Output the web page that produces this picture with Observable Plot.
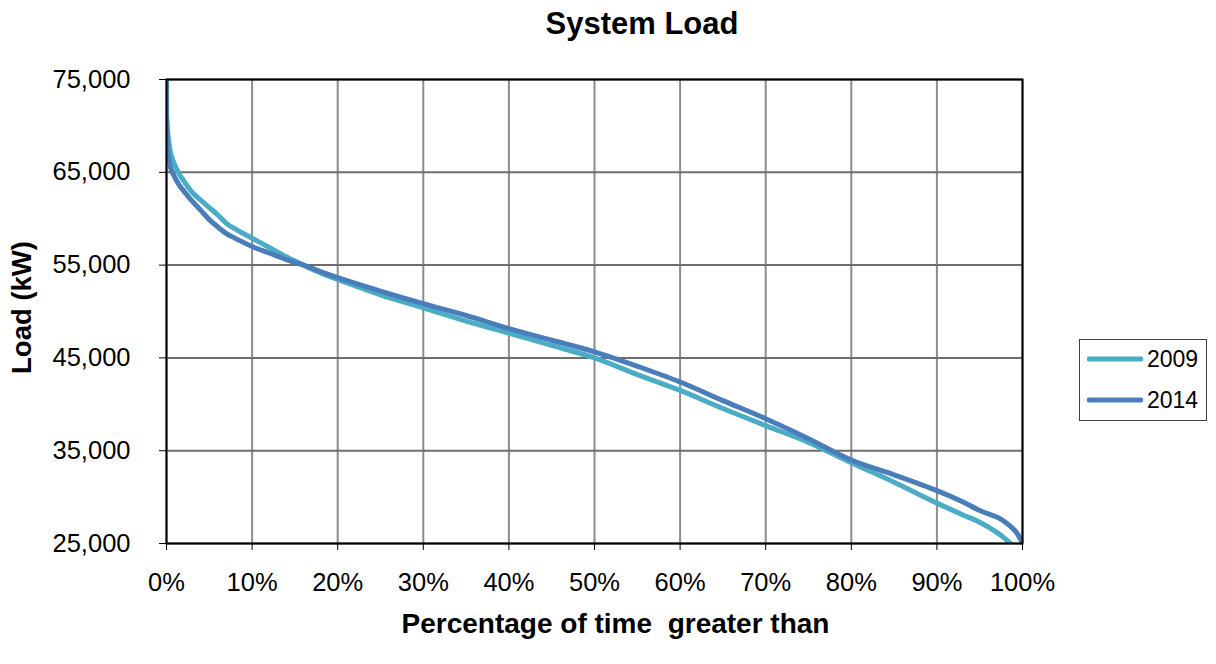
<!DOCTYPE html>
<html>
<head>
<meta charset="utf-8">
<script src="https://cdn.jsdelivr.net/npm/d3@7"></script>
<script src="https://cdn.jsdelivr.net/npm/@observablehq/plot@0.6"></script>
<style>
  html, body { margin: 0; padding: 0; background: #fff; }
  body { width: 1216px; height: 664px; position: relative; overflow: hidden; font-family: "Liberation Sans", Arial, sans-serif; }
  #title { position: absolute; left: 0; width: 1284px; top: 6px; text-align: center; font-weight: bold; font-size: 31px; line-height: 36px; color: #000; }
  #chart { position: absolute; left: 0; top: 0; }
  #legend { position: absolute; left: 1079px; top: 339px; width: 128px; height: 82px; border: 1.5px solid #444; box-sizing: border-box; }
  .item { position: absolute; left: 7px; height: 26px; display: flex; align-items: center; font-size: 23px; color: #000; }
  .item svg { margin-right: 4px; }
</style>
</head>
<body>
<div id="chart"></div>
<div id="title">System Load</div>
<div id="legend"></div>
<script>
// Percentage of time greater than (%)
const pct2009 = [0, 0.2, 0.5, 1, 1.5, 2, 3, 4, 5, 6, 7, 8, 10, 12, 14, 16, 18, 20, 25, 30, 35, 40, 45, 50, 55, 60, 65, 70, 75, 80, 85, 90, 93, 95, 97, 98, 98.6];
const load2009 = [71000, 68800, 67000, 65700, 64800, 64100, 62850, 62000, 61200, 60400, 59500, 58900, 57900, 56900, 55900, 55000, 54150, 53450, 51800, 50400, 48970, 47660, 46340, 45000, 43200, 41500, 39550, 37700, 35900, 33700, 31600, 29350, 28100, 27300, 26200, 25500, 25000];
const pct2014 = [0, 0.05, 0.2, 0.5, 1, 1.5, 2, 3, 4, 5, 6, 7, 8, 10, 12, 14, 16, 18, 20, 25, 30, 35, 40, 45, 50, 55, 60, 65, 70, 75, 80, 85, 90, 93, 95, 97, 98, 99, 99.5, 100];
const load2014 = [75000, 69500, 66900, 65400, 64400, 63600, 63000, 61900, 60900, 59900, 59100, 58400, 57900, 57000, 56300, 55600, 55000, 54300, 53650, 52200, 50850, 49570, 48150, 46900, 45650, 44100, 42400, 40400, 38450, 36300, 34000, 32400, 30700, 29500, 28550, 27850, 27300, 26500, 25900, 25000];
const seriesNames = ["2009", "2014"];
const seriesColors = ["#4bacc6", "#4a7ebb"];
const xTicks = [0, 10, 20, 30, 40, 50, 60, 70, 80, 90, 100];
const yTicks = [25000, 35000, 45000, 55000, 65000, 75000];

const data = [
  ...pct2009.map((p, i) => ({series: seriesNames[0], pct: p, load: load2009[i]})),
  ...pct2014.map((p, i) => ({series: seriesNames[1], pct: p, load: load2014[i]}))
];

const W = 1216, H = 664;
const chart = Plot.plot({
  width: W,
  height: H,
  marginLeft: 166,
  marginRight: W - 1022,
  marginTop: 79,
  marginBottom: H - 543,
  style: {fontFamily: "'Liberation Sans', Arial, sans-serif", fontSize: "25px", color: "#000", background: "#fff"},
  x: {domain: [0, 100], label: null},
  y: {domain: [25000, 75000], label: null},
  color: {domain: seriesNames, range: seriesColors},
  marks: [
    Plot.gridX(xTicks, {stroke: "#8c8c8c", strokeOpacity: 1, strokeWidth: 2}),
    Plot.gridY(yTicks, {stroke: "#6e6e6e", strokeOpacity: 1, strokeWidth: 2}),
    Plot.line(data, {x: "pct", y: "load", z: "series", stroke: "series", strokeWidth: 5, curve: "catmull-rom", clip: true}),
    Plot.frame({stroke: "#000", strokeWidth: 2}),
    Plot.axisX(xTicks, {tickFormat: d => d + "%", tickSize: 7, tickPadding: 22, stroke: "#000", label: null, fontSize: 25.5}),
    Plot.axisY(yTicks, {tickFormat: d => d3.format(",")(d), tickSize: 7, tickPadding: 29, stroke: "#000", label: null, fontSize: 25.5}),
    Plot.text(["Percentage of time  greater than"], {frameAnchor: "bottom", dx: 21, dy: 89, fontWeight: "bold", fontSize: 28, textAnchor: "middle"}),
    Plot.text(["Load (kW)"], {frameAnchor: "left", dx: -144, dy: -4, rotate: -90, fontWeight: "bold", fontSize: 27.5, textAnchor: "middle"})
  ]
});
document.getElementById("chart").appendChild(chart);

const legend = document.getElementById("legend");
seriesNames.forEach((name, i) => {
  const div = document.createElement("div");
  div.className = "item";
  div.style.top = (i === 0 ? 6 : 47) + "px";
  div.innerHTML = `<svg width="56" height="10"><line x1="2" x2="54" y1="5" y2="5" stroke="${seriesColors[i]}" stroke-width="5" stroke-linecap="round"/></svg><span>${name}</span>`;
  legend.appendChild(div);
});
</script>
</body>
</html>
